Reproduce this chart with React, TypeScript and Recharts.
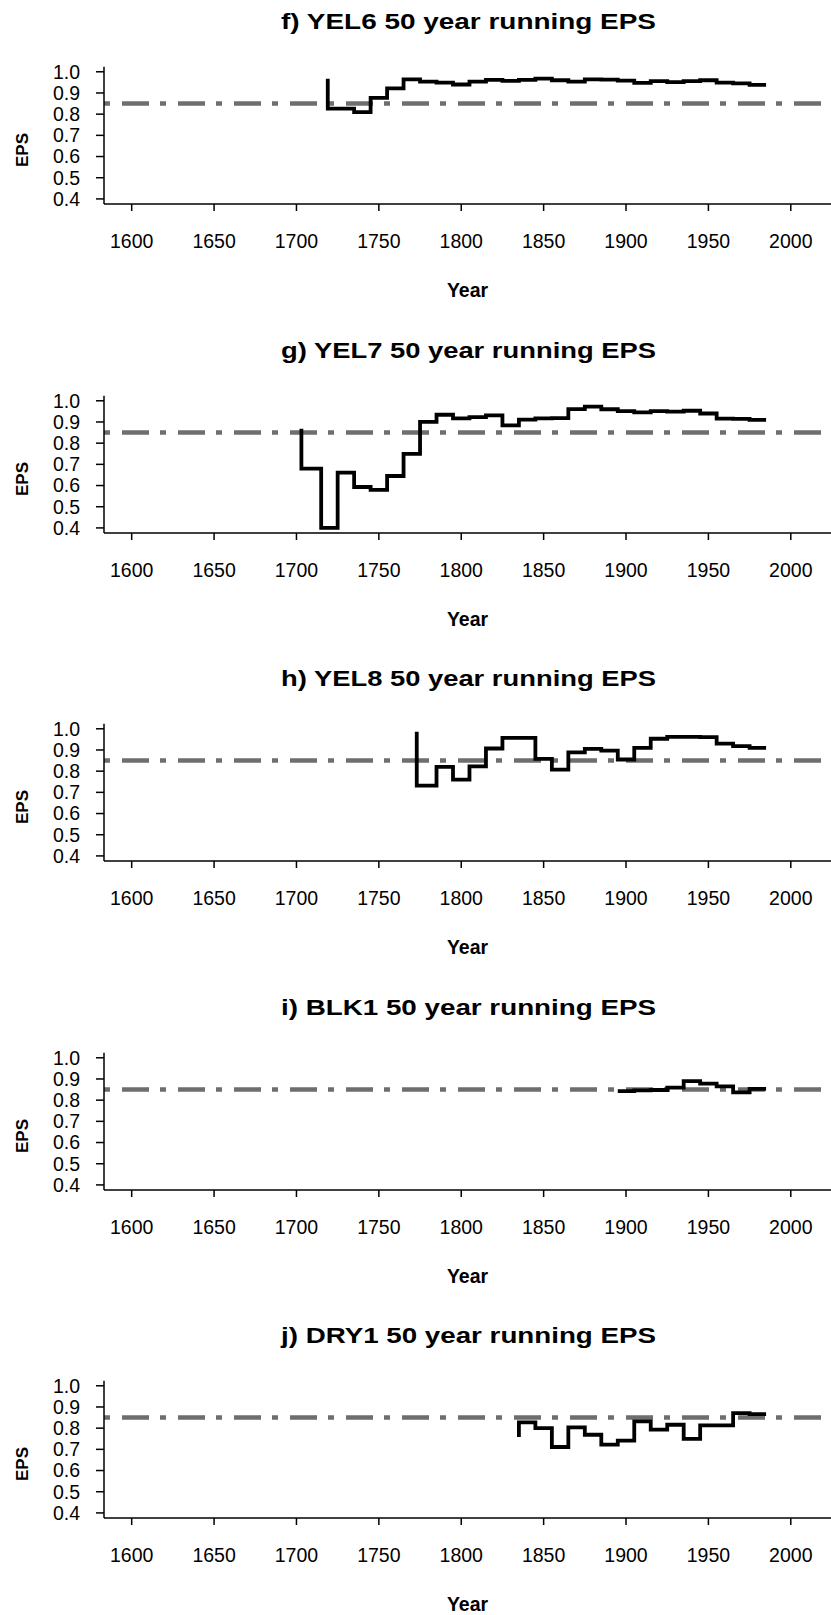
import { LineChart, Line, XAxis, YAxis, ReferenceLine, Label } from 'recharts';

// shared axes
const xTicks = [1600, 1650, 1700, 1750, 1800, 1850, 1900, 1950, 2000];
const yTicks = [0.4, 0.5, 0.6, 0.7, 0.8, 0.9, 1.0];
const epsThreshold = 0.85;

// YEL6
const yel6Years = [1719, 1719, 1735, 1745, 1755, 1765, 1775, 1785, 1795, 1805, 1815, 1825, 1835, 1845, 1855, 1865, 1875, 1885, 1895, 1905, 1915, 1925, 1935, 1945, 1955, 1965, 1975, 1985];
const yel6Eps = [0.967, 0.826, 0.81, 0.877, 0.922, 0.964, 0.954, 0.949, 0.94, 0.954, 0.962, 0.957, 0.962, 0.968, 0.96, 0.954, 0.964, 0.963, 0.958, 0.948, 0.956, 0.951, 0.956, 0.96, 0.949, 0.945, 0.938, 0.938];

// YEL7
const yel7Years = [1703, 1703, 1715, 1725, 1735, 1745, 1755, 1765, 1775, 1785, 1795, 1805, 1815, 1825, 1835, 1845, 1855, 1865, 1875, 1885, 1895, 1905, 1915, 1925, 1935, 1945, 1955, 1965, 1975, 1985];
const yel7Eps = [0.868, 0.68, 0.4, 0.661, 0.593, 0.58, 0.645, 0.749, 0.9, 0.934, 0.917, 0.923, 0.931, 0.884, 0.911, 0.917, 0.918, 0.961, 0.972, 0.96, 0.951, 0.945, 0.951, 0.949, 0.953, 0.94, 0.916, 0.915, 0.91, 0.91];

// YEL8
const yel8Years = [1773, 1773, 1785, 1795, 1805, 1815, 1825, 1835, 1845, 1855, 1865, 1875, 1885, 1895, 1905, 1915, 1925, 1935, 1945, 1955, 1965, 1975, 1985];
const yel8Eps = [0.986, 0.732, 0.82, 0.76, 0.823, 0.907, 0.957, 0.957, 0.858, 0.807, 0.889, 0.905, 0.897, 0.855, 0.91, 0.953, 0.962, 0.962, 0.961, 0.93, 0.918, 0.91, 0.91];

// BLK1
const blk1Years = [1895, 1905, 1915, 1925, 1935, 1945, 1955, 1965, 1975, 1985];
const blk1Eps = [0.843, 0.846, 0.848, 0.859, 0.89, 0.878, 0.865, 0.837, 0.853, 0.853];

// DRY1
const dry1Years = [1835, 1835, 1845, 1855, 1865, 1875, 1885, 1895, 1905, 1915, 1925, 1935, 1945, 1955, 1965, 1975, 1985];
const dry1Eps = [0.758, 0.827, 0.8, 0.711, 0.804, 0.769, 0.722, 0.741, 0.832, 0.793, 0.816, 0.749, 0.813, 0.813, 0.871, 0.866, 0.866];

const panels = [
  { title: 'f) YEL6 50 year running EPS', years: yel6Years, eps: yel6Eps },
  { title: 'g) YEL7 50 year running EPS', years: yel7Years, eps: yel7Eps },
  { title: 'h) YEL8 50 year running EPS', years: yel8Years, eps: yel8Eps },
  { title: 'i) BLK1 50 year running EPS', years: blk1Years, eps: blk1Eps },
  { title: 'j) DRY1 50 year running EPS', years: dry1Years, eps: dry1Eps },
];

const FONT = '"Liberation Sans", Arial, Helvetica, sans-serif';
const PANEL_STEP = 328.6;

type PanelProps = { title: string; years: number[]; eps: number[] };

const EpsPanel = ({ title, years, eps }: PanelProps) => {
  const data = years.map((year, i) => ({ year, eps: eps[i] }));

  return (
    <LineChart width={831} height={330} data={data} margin={{ top: 66.7, right: 0, bottom: 0, left: 0 }}>
      <XAxis
        type="number"
        dataKey="year"
        domain={[1583.2, 2024.4]}
        allowDataOverflow
        ticks={xTicks}
        interval={0}
        height={126}
        tickSize={7}
        tickMargin={23}
        axisLine={{ stroke: '#000', strokeWidth: 1.5 }}
        tickLine={{ stroke: '#000', strokeWidth: 1.5 }}
        tick={{ fill: '#000', fontSize: 19.5, fontFamily: FONT }}
      >
        <Label value="Year" position="insideBottom" offset={33} fill="#000" fontSize={19.5} fontWeight="bold" fontFamily={FONT} />
      </XAxis>
      <YAxis
        type="number"
        domain={[0.376, 1.024]}
        allowDataOverflow
        ticks={yTicks}
        interval={0}
        width={104}
        tickSize={8}
        tickMargin={16}
        tickFormatter={(v: number) => v.toFixed(1)}
        axisLine={{ stroke: '#000', strokeWidth: 1.5 }}
        tickLine={{ stroke: '#000', strokeWidth: 1.5 }}
        tick={{ fill: '#000', fontSize: 19.5, fontFamily: FONT }}
      >
        <Label
          content={() => (
            <text x={28} y={150} transform="rotate(-90 28 150)" textAnchor="middle" fill="#000" fontSize={17} fontWeight="bold" fontFamily={FONT}>
              EPS
            </text>
          )}
        />
        <Label
          content={() => (
            <text x={281} y={29} textLength={375} lengthAdjust="spacingAndGlyphs" fill="#000" fontSize={22} fontWeight="bold" fontFamily={FONT}>
              {title}
            </text>
          )}
        />
      </YAxis>
      <ReferenceLine y={epsThreshold} stroke="#6e6e6e" strokeWidth={4.5} strokeDasharray="6 12 27 11" />
      <Line type="stepAfter" dataKey="eps" stroke="#000" strokeWidth={3.8} dot={false} activeDot={false} isAnimationActive={false} />
    </LineChart>
  );
};

const App = () => {
  return (
    <div style={{ position: 'relative', width: 831, height: 1615, overflow: 'hidden', background: '#fff' }}>
      <style>{'body { margin: 0; }'}</style>
      {panels.map((p, i) => (
        <div key={p.title} style={{ position: 'absolute', left: 0, top: i * PANEL_STEP }}>
          <EpsPanel title={p.title} years={p.years} eps={p.eps} />
        </div>
      ))}
    </div>
  );
};

export default App;
